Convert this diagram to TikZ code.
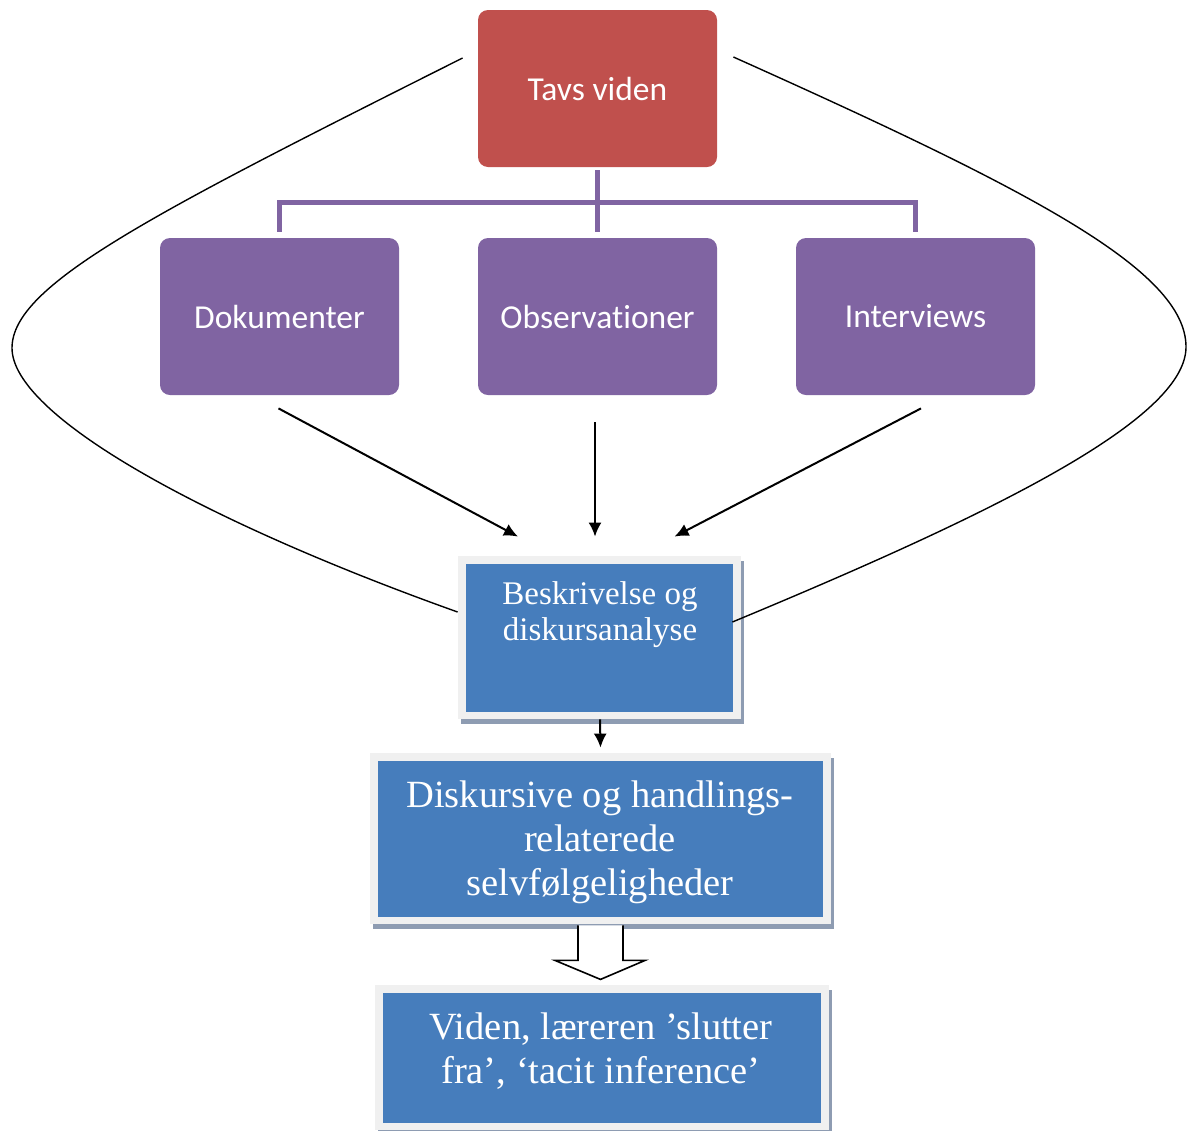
\documentclass[tikz,border=0pt]{standalone}
\usepackage{fontspec}
\setmainfont{Liberation Serif}
\newfontfamily\boxsans[Ligatures={NoCommon}]{Carlito}
\usetikzlibrary{arrows.meta,calc,backgrounds}
\definecolor{tavsred}{HTML}{C0504D}
\definecolor{methpurple}{HTML}{8064A2}
\definecolor{stepblue}{HTML}{467DBC}
\definecolor{framegray}{HTML}{F0F0F0}
\definecolor{shadowgray}{HTML}{8E9CB2}

\begin{document}
\begin{tikzpicture}[x=0.5pt,y=-0.5pt,
  topbox/.style={rounded corners=5pt, minimum width=119.5pt, minimum height=78.5pt,
    inner sep=0pt, text=white, font=\boxsans\fontsize{16.75}{20}\selectfont},
  stepbox/.style={fill=stepblue, inner sep=0pt},
  steptext/.style={anchor=north, inner sep=0pt, text=white, align=center},
  tree/.style={methpurple, line width=2.5pt, line join=miter},
  arr/.style={line width=1pt, -{Latex[length=7pt,width=6.5pt]}},
  hollow/.style={line width=0.8pt, fill=white, line join=miter},
  outerline/.style={line width=0.7pt}]

\useasboundingbox (0,0) rectangle (1187,1130);

% top level and the three sources
\node[topbox, fill=tavsred]    (tavs) at (597.5,88.5)  {Tavs viden};
\node[topbox, fill=methpurple] (dok)  at (279.5,316.5) {Dokumenter};
\node[topbox, fill=methpurple] (obs)  at (597.5,316.5) {Observationer};
\node[topbox, fill=methpurple] (int)  at (915.5,316.5) {Interviews};

% analysis steps
\node[stepbox, minimum width=133.5pt, minimum height=74pt] (b1) at (599.5,638) {};
\node[stepbox, minimum width=222.5pt, minimum height=78pt] (b2) at (600.5,839) {};
\node[stepbox, minimum width=219pt,   minimum height=65pt] (b3) at (602,1058) {};

\node[steptext, font=\fontsize{16.5}{18}\selectfont] (b1t) at (600,581.5)
  {Beskrivelse og\\diskursanalyse};
\node[steptext, font=\fontsize{19.25}{22}\selectfont] (b2t) at (600,780)
  {Diskursive og handlings-\\relaterede\\selvfølgeligheder};
\node[steptext, font=\fontsize{19.25}{22}\selectfont] (b3t) at (601,1012)
  {Viden, læreren ’slutter\\fra’, ‘tacit inference’};

% frames and shadows behind the step boxes
\begin{scope}[on background layer]
  \foreach \b in {b1,b2,b3}{
    \fill[shadowgray] ($(\b.north west)+(-5,-3)$) rectangle ($(\b.south east)+(11,12)$);
    \fill[framegray]  ($(\b.north west)+(-8,-8)$) rectangle ($(\b.south east)+(8,7)$);
  }
\end{scope}

% tree connector from the top box to the sources
\draw[tree] ($(tavs.south)+(0,3)$) -- ($(obs.north)+(0,-6)$);
\draw[tree] ($(dok.north)+(0,-6)$) -- ++(0,-29) -| ($(int.north)+(0,-6)$);

% sources feed the description step
\coordinate (d1) at ($(dok.south)+(-1,13)$);
\coordinate (o1) at ($(obs.south)+(-2.5,27)$);
\coordinate (i1) at ($(int.south)+(5.5,13)$);
\draw[arr] (d1) -- ($(b1.north)+(-81.5,-27)$);
\draw[arr] (o1) -- ($(b1.north)+(-4.5,-27)$);
\draw[arr] (i1) -- ($(b1.north)+(75,-27)$);

% step to step
\draw[arr] ($(b1.south)+(0.5,7)$) -- ($(b2.north)+(0,-13)$);
\draw[hollow] ($(b2.south)+(-22.5,8)$) -- ++(0,35) -- ++(-23,0)
  -- ($(b2.south)+(0,62)$) -- ($(b2.south)+(44.5,43)$) -- ++(-22,0) -- ++(0,-35);

% outer curves linking tacit knowledge with the description step
\coordinate (lc0) at ($(tavs.west)+(-15,-30.5)$);
\coordinate (lc1) at ($(b1.west)+(-8,-26)$);
\coordinate (rc0) at ($(tavs.east)+(16,-31.5)$);
\coordinate (rc1) at ($(b1.east)+(-1,-16)$);
\draw[outerline] (lc0) .. controls (150,215) and (12,285) .. (12,348)
  .. controls (12,415) and (200,520) .. (lc1);
\draw[outerline] (rc0) .. controls (1030,190) and (1186,270) .. (1186,347)
  .. controls (1186,420) and (990,515) .. (rc1);

\end{tikzpicture}
\end{document}
